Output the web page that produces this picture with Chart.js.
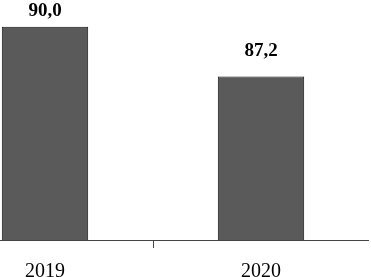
<!DOCTYPE html>
<html>
<head>
<meta charset="utf-8">
<script src="https://cdn.jsdelivr.net/npm/chart.js@4/dist/chart.umd.min.js"></script>
<style>
  html, body { margin: 0; padding: 0; background: #fff; overflow: hidden; }
  #wrap { position: relative; width: 371px; height: 277px; overflow: hidden; }
  #chart { position: absolute; left: -63px; top: 0; }
</style>
</head>
<body>
<div id="wrap"><canvas id="chart" width="432" height="296"></canvas></div>
<script>
const years = ['2019', '2020']
const values = [90.0, 87.2]
const valueLabels = ['90,0', '87,2']

const SERIF = '"Liberation Serif", "Times New Roman", serif'

// draws the bold number above every bar (first one is squeezed by the top edge)
const labelGap = [11, 20]
const topLabels = {
  id: 'topLabels',
  afterDatasetsDraw(chart) {
    const ctx = chart.ctx
    const meta = chart.getDatasetMeta(0)
    ctx.save()
    ctx.font = 'bold 19px ' + SERIF
    ctx.fillStyle = '#000'
    ctx.textAlign = 'center'
    ctx.textBaseline = 'alphabetic'
    meta.data.forEach((bar, i) => {
      ctx.fillText(valueLabels[i], bar.x, bar.y - labelGap[i])
    })
    ctx.restore()
  },
}

const ctx = document.getElementById('chart').getContext('2d')
new Chart(ctx, {
  type: 'bar',
  data: {
    labels: years,
    datasets: [
      {
        data: values,
        backgroundColor: '#5a5a5a',
        borderColor: '#111',
        borderWidth: 1,
        barPercentage: 0.4,
        categoryPercentage: 1,
      },
    ],
  },
  options: {
    responsive: false,
    animation: false,
    layout: { padding: 0 },
    plugins: {
      legend: { display: false },
      tooltip: { enabled: false },
    },
    scales: {
      x: {
        offset: true,
        grid: {
          offset: true,
          drawOnChartArea: false,
          drawTicks: true,
          tickLength: 8,
          color: '#444',
        },
        border: { display: true, color: '#444', width: 1 },
        ticks: {
          color: '#000',
          padding: 14,
          font: { family: SERIF, size: 20, lineHeight: 1 },
        },
      },
      y: {
        display: false,
        min: 78,
        max: 91.5,
      },
    },
  },
  plugins: [topLabels],
})
</script>
</body>
</html>
